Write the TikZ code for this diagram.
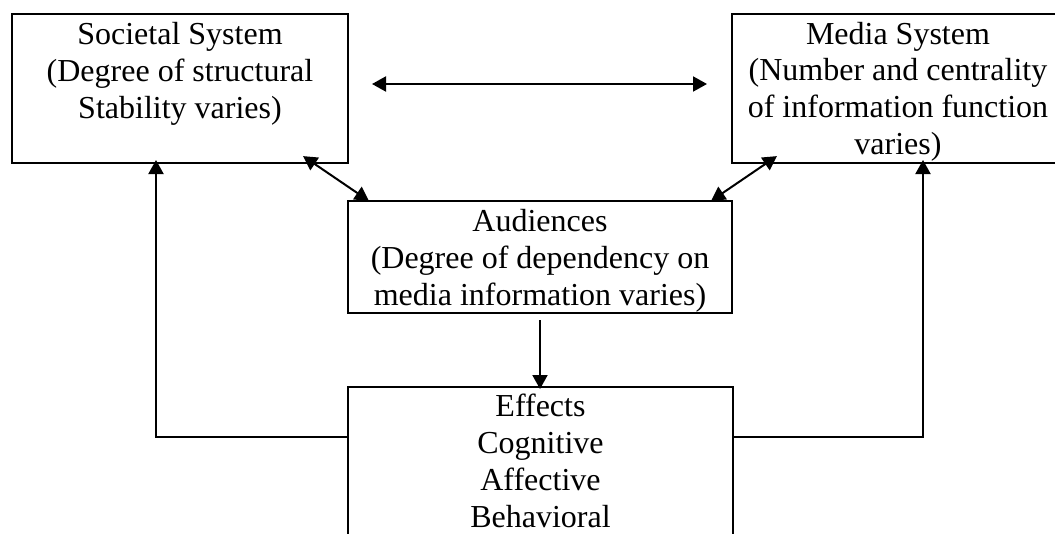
\documentclass[tikz,border=0pt]{standalone}
\usepackage{fontspec}
\setmainfont{Liberation Serif}
\usetikzlibrary{arrows.meta,calc}
\begin{document}
\begin{tikzpicture}[x=1pt,y=-1pt,
  boxst/.style={draw,line width=2.2pt,inner sep=0pt},
  txt/.style={align=center,inner sep=0pt,anchor=base,font=\fontsize{32}{36.8}\selectfont},
  conn/.style={line width=2pt,-{Triangle[length=14pt,width=15pt]}},
  dconn/.style={line width=2pt,{Triangle[length=14pt,width=15pt]}-{Triangle[length=14pt,width=15pt]}}]
\useasboundingbox (0,0) rectangle (1055,533);
\node[boxst,minimum width=336pt,minimum height=149pt] (soc) at (180,88.5) {};
\node[boxst,minimum width=332pt,minimum height=149pt] (med) at (898,88.5) {};
\node[boxst,minimum width=384pt,minimum height=112pt] (aud) at (540,257) {};
\node[boxst,minimum width=385pt,minimum height=170pt] (eff) at (540.5,472) {};
\node[txt] (soct) at (180,118) {Societal System\\(Degree of structural\\Stability varies)};
\node[txt] (medt) at (898,154.5) {Media System\\(Number and centrality\\of information function\\varies)};
\node[txt] (audt) at (540,305) {Audiences\\(Degree of dependency on\\media information varies)};
\node[txt] (efft) at (540.5,527) {Effects\\Cognitive\\Affective\\Behavioral};
\coordinate (hl) at (372,84);
\coordinate (hr) at (707,84);
\draw[dconn] (hl) -- (hr);
\coordinate (sd) at ($(soc.south east)+(-46,-8)$);
\coordinate (ad1) at ($(aud.north west)+(22,1)$);
\draw[dconn] (sd) -- (ad1);
\coordinate (md) at ($(med.south west)+(46,-8)$);
\coordinate (ad2) at ($(aud.north east)+(-22,1)$);
\draw[dconn] (md) -- (ad2);
\coordinate (el) at (eff.west |- 0,437);
\coordinate (er) at (eff.east |- 0,437);
\coordinate (sb) at (156,160);
\coordinate (mb) at (923,160);
\draw[conn] (el) -| (sb);
\draw[conn] (er) -| (mb);
\coordinate (at) at (540,320);
\coordinate (et) at (540,389);
\draw[conn] (at) -- (et);
\end{tikzpicture}
\end{document}
